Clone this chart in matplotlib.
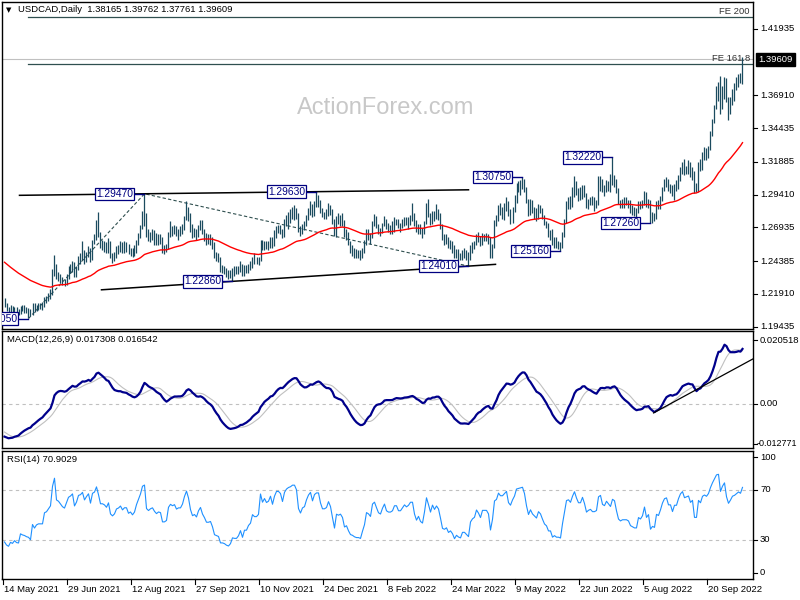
import numpy as np
import matplotlib
matplotlib.use('Agg')
import matplotlib.pyplot as plt
from matplotlib.transforms import blended_transform_factory

plt.rcParams['font.family'] = ['Liberation Sans', 'DejaVu Sans']

# ---------------- DATA (prices in 1/10000) ----------------
date_labels = ["14 May 2021", "29 Jun 2021", "12 Aug 2021", "27 Sep 2021", "10 Nov 2021",
               "24 Dec 2021", "8 Feb 2022", "24 Mar 2022", "9 May 2022", "22 Jun 2022",
               "5 Aug 2022", "20 Sep 2022"]
date_label_bars = [0, 32, 64, 96, 128, 160, 192, 224, 256, 288, 320, 352]

# closes before the visible window (used only to warm up MA / MACD / RSI)
warmup_closes = [
    12740, 12680, 12640, 12670, 12720, 12770, 12710, 12720, 12650, 12730,
    12750, 12720, 12620, 12640, 12730, 12740, 12760, 12840, 12800, 12790,
    12820, 12830, 12800, 12780, 12770, 12720, 12700, 12690, 12700, 12700,
    12670, 12690, 12700, 12640, 12620, 12610, 12620, 12580, 12480, 12730,
    12650, 12630, 12650, 12680, 12630, 12660, 12630, 12620, 12500, 12480,
    12470, 12460, 12380, 12410, 12460, 12560, 12610, 12600, 12600, 12570,
    12620, 12640, 12580, 12570, 12520, 12520, 12580, 12570, 12590, 12540,
    12560, 12530, 12480, 12520, 12520, 12470, 12560, 12480, 12490, 12460,
    12420, 12370, 12330, 12310, 12290, 12280, 12300, 12280, 12250, 12140,
    12140, 12140, 12090, 12150]

closes = [
    12118,
    12075, 12055, 12075, 12062, 12075,
    12053, 12048, 12090, 12080, 12075,
    12065, 12060, 12040, 12105, 12080,
    12095, 12100, 12100, 12100, 12150,
    12155, 12170, 12185, 12340, 12465,
    12330, 12320, 12300, 12280, 12270,
    12320, 12380, 12395, 12420, 12340,
    12380, 12460, 12470, 12500, 12450,
    12490, 12525, 12460, 12590, 12610,
    12700, 12640, 12560, 12560, 12550,
    12530, 12580, 12480, 12460, 12480,
    12530, 12540, 12560, 12530, 12550,
    12550, 12510, 12520, 12500, 12520,
    12580, 12630, 12690, 12800, 12820,
    12640, 12620, 12640, 12650, 12620,
    12600, 12615, 12610, 12530, 12530,
    12540, 12650, 12680, 12670, 12680,
    12650, 12660, 12660, 12690, 12760,
    12820, 12780, 12700, 12650, 12660,
    12640, 12690, 12720, 12670, 12640,
    12600, 12600, 12605, 12560, 12480,
    12470, 12460, 12380, 12380, 12370,
    12350, 12340, 12350, 12375, 12370,
    12370, 12380, 12400, 12350, 12380,
    12380, 12400, 12410, 12450, 12440,
    12440, 12450, 12580, 12540, 12570,
    12550, 12560, 12600, 12560, 12630,
    12680, 12680, 12670, 12630, 12720,
    12760, 12780, 12790, 12810, 12810,
    12790, 12690, 12660, 12700, 12710,
    12770, 12820, 12850, 12800, 12870,
    12890, 12890, 12830, 12790, 12790,
    12800, 12850, 12820, 12740, 12640,
    12760, 12750, 12760, 12730, 12630,
    12640, 12580, 12530, 12520, 12500,
    12490, 12490, 12480, 12520, 12560,
    12650, 12640, 12620, 12730, 12750,
    12710, 12670, 12660, 12710, 12750,
    12700, 12690, 12690, 12700, 12740,
    12740, 12710, 12710, 12730, 12750,
    12740, 12750, 12770, 12770, 12715,
    12680, 12700, 12670, 12660, 12720,
    12830, 12790, 12740, 12800, 12770,
    12800, 12780, 12710, 12610, 12600,
    12610, 12560, 12570, 12540, 12480,
    12500, 12480, 12470, 12500, 12500,
    12480, 12460, 12540, 12560, 12570,
    12620, 12600, 12570, 12620, 12620,
    12620, 12600, 12480, 12550, 12730,
    12750, 12840, 12820, 12820, 12850,
    12880, 12800, 12780, 12840, 12890,
    13000, 13010, 13020, 13030, 12990,
    12900, 12820, 12870, 12830, 12810,
    12790, 12850, 12830, 12780, 12730,
    12710, 12650, 12650, 12570, 12580,
    12560, 12560, 12550, 12640, 12740,
    12870, 12880, 12860, 12940, 13010,
    12960, 12920, 12920, 12990, 12940,
    12860, 12880, 12890, 12870, 12870,
    12880, 13030, 13050, 12980, 12970,
    13020, 13000, 12980, 13060, 13050,
    12970, 12890, 12870, 12880, 12880,
    12880, 12870, 12830, 12820, 12810,
    12810, 12870, 12860, 12880, 12940,
    12870, 12890, 12760, 12780, 12770,
    12870, 12860, 12910, 12980, 13030,
    13040, 12990, 12990, 12940, 13000,
    13000, 13070, 13130, 13160, 13120,
    13130, 13140, 13100, 13120, 12990,
    12990, 13170, 13150, 13240, 13260,
    13250, 13290, 13390, 13490, 13590,
    13720, 13740, 13590, 13720, 13820,
    13660, 13570, 13640, 13730, 13750,
    13790, 13830, 13816, 13961]

highs = [
    12160,
    12125, 12090, 12105, 12100, 12095,
    12090, 12075, 12100, 12110, 12105,
    12090, 12085, 12080, 12120, 12125,
    12110, 12125, 12125, 12130, 12165,
    12175, 12195, 12230, 12380, 12487,
    12420, 12360, 12340, 12320, 12300,
    12340, 12400, 12420, 12440, 12430,
    12400, 12480, 12500, 12590, 12520,
    12510, 12550, 12540, 12600, 12640,
    12750, 12808, 12660, 12600, 12590,
    12580, 12610, 12590, 12500, 12510,
    12550, 12560, 12590, 12580, 12590,
    12580, 12570, 12540, 12540, 12560,
    12600, 12650, 12710, 12820, 12949,
    12800, 12680, 12660, 12680, 12670,
    12650, 12640, 12640, 12620, 12560,
    12570, 12660, 12740, 12700, 12710,
    12700, 12680, 12700, 12720, 12780,
    12896, 12850, 12800, 12720, 12690,
    12680, 12710, 12750, 12750, 12680,
    12650, 12640, 12640, 12620, 12580,
    12510, 12500, 12470, 12410, 12400,
    12390, 12370, 12370, 12390, 12400,
    12400, 12400, 12440, 12420, 12410,
    12410, 12420, 12440, 12470, 12500,
    12470, 12470, 12600, 12600, 12590,
    12590, 12590, 12620, 12620, 12670,
    12700, 12710, 12710, 12680, 12760,
    12790, 12810, 12830, 12850, 12860,
    12840, 12800, 12700, 12720, 12740,
    12790, 12840, 12890, 12870, 12890,
    12964, 12940, 12900, 12840, 12810,
    12830, 12880, 12860, 12830, 12760,
    12780, 12800, 12790, 12800, 12750,
    12680, 12660, 12590, 12560, 12540,
    12530, 12520, 12520, 12540, 12600,
    12680, 12680, 12650, 12740, 12796,
    12780, 12720, 12690, 12730, 12780,
    12760, 12730, 12710, 12740, 12770,
    12760, 12760, 12730, 12760, 12770,
    12770, 12770, 12790, 12880, 12800,
    12750, 12720, 12720, 12690, 12740,
    12880, 12905, 12800, 12820, 12820,
    12870, 12830, 12800, 12720, 12640,
    12640, 12620, 12600, 12590, 12560,
    12530, 12530, 12500, 12520, 12540,
    12520, 12510, 12560, 12580, 12590,
    12640, 12660, 12630, 12650, 12640,
    12650, 12640, 12620, 12570, 12750,
    12790, 12860, 12880, 12850, 12880,
    12920, 12890, 12830, 12850, 12940,
    13030, 13040, 13050, 13076, 13060,
    13000, 12910, 12910, 12900, 12850,
    12840, 12870, 12860, 12840, 12790,
    12740, 12730, 12670, 12680, 12620,
    12620, 12590, 12580, 12660, 12760,
    12890, 12920, 12930, 13000, 13079,
    13040, 12990, 13000, 13010, 13010,
    12950, 12910, 12920, 12930, 12920,
    12900, 13080, 13080, 13060, 13010,
    13050, 13040, 13100, 13224, 13090,
    13060, 12990, 12900, 12910, 12920,
    12920, 12900, 12900, 12860, 12850,
    12840, 12890, 12890, 12900, 12970,
    12960, 12910, 12900, 12810, 12800,
    12890, 12900, 12930, 13000, 13060,
    13070, 13060, 13020, 13010, 13020,
    13050, 13090, 13150, 13190, 13210,
    13160, 13200, 13190, 13150, 13120,
    13030, 13190, 13210, 13260, 13300,
    13290, 13310, 13420, 13510, 13620,
    13760, 13790, 13838, 13760, 13830,
    13820, 13680, 13680, 13740, 13780,
    13830, 13850, 13860, 13976]

lows = [
    12090,
    12060, 12043, 12040, 12045, 12050,
    12040, 12030, 12040, 12060, 12050,
    12050, 12007, 12025, 12035, 12055,
    12065, 12070, 12080, 12070, 12090,
    12120, 12140, 12150, 12180, 12330,
    12300, 12290, 12270, 12260, 12250,
    12260, 12300, 12350, 12360, 12320,
    12320, 12370, 12420, 12450, 12420,
    12430, 12470, 12430, 12450, 12570,
    12600, 12620, 12540, 12520, 12510,
    12500, 12500, 12460, 12425, 12440,
    12460, 12490, 12510, 12500, 12500,
    12510, 12490, 12480, 12470, 12480,
    12500, 12560, 12610, 12680, 12700,
    12620, 12590, 12580, 12600, 12560,
    12560, 12560, 12570, 12500, 12495,
    12510, 12530, 12620, 12630, 12640,
    12630, 12600, 12630, 12640, 12670,
    12750, 12740, 12660, 12610, 12620,
    12600, 12620, 12670, 12640, 12590,
    12560, 12570, 12560, 12530, 12460,
    12440, 12430, 12360, 12350, 12340,
    12320, 12300, 12310, 12288, 12330,
    12340, 12340, 12360, 12330, 12330,
    12350, 12350, 12370, 12390, 12420,
    12420, 12410, 12440, 12520, 12520,
    12530, 12520, 12540, 12540, 12550,
    12610, 12650, 12640, 12610, 12620,
    12700, 12680, 12730, 12760, 12750,
    12760, 12660, 12630, 12640, 12670,
    12700, 12750, 12790, 12770, 12780,
    12850, 12850, 12800, 12770, 12760,
    12760, 12780, 12790, 12720, 12630,
    12620, 12720, 12700, 12700, 12620,
    12600, 12560, 12500, 12480, 12460,
    12460, 12460, 12450, 12460, 12500,
    12560, 12600, 12570, 12610, 12700,
    12690, 12640, 12630, 12650, 12700,
    12680, 12660, 12640, 12640, 12660,
    12710, 12690, 12660, 12690, 12700,
    12710, 12680, 12710, 12740, 12700,
    12660, 12640, 12640, 12610, 12640,
    12720, 12770, 12710, 12720, 12740,
    12760, 12750, 12680, 12600, 12560,
    12570, 12540, 12530, 12500, 12460,
    12460, 12450, 12450, 12450, 12460,
    12450, 12403, 12450, 12500, 12530,
    12560, 12580, 12550, 12560, 12590,
    12590, 12570, 12460, 12460, 12540,
    12700, 12740, 12790, 12760, 12750,
    12820, 12780, 12720, 12730, 12810,
    12880, 12960, 12940, 12980, 12960,
    12880, 12780, 12790, 12800, 12760,
    12740, 12760, 12800, 12760, 12710,
    12690, 12620, 12600, 12560, 12540,
    12540, 12530, 12518, 12540, 12620,
    12730, 12830, 12830, 12850, 12920,
    12940, 12890, 12900, 12910, 12920,
    12840, 12830, 12860, 12860, 12820,
    12840, 12860, 12970, 12960, 12930,
    12960, 12970, 12960, 13010, 13000,
    12950, 12870, 12840, 12840, 12840,
    12860, 12840, 12800, 12790, 12780,
    12770, 12800, 12830, 12840, 12860,
    12850, 12840, 12728, 12730, 12740,
    12760, 12830, 12830, 12890, 12970,
    13000, 12970, 12950, 12930, 12900,
    12970, 12980, 13040, 13100, 13090,
    13100, 13100, 13070, 13050, 12955,
    12960, 12960, 13120, 13130, 13200,
    13200, 13220, 13280, 13380, 13480,
    13590, 13650, 13550, 13590, 13660,
    13640, 13502, 13550, 13620, 13650,
    13730, 13750, 13780, 13776]

# swing labels: (text, bar index, price)
swing_labels = [("1.20050", 12, 1.2005), ("1.29470", 70, 1.2947), ("1.22860", 114, 1.2286),
                ("1.29630", 156, 1.2963), ("1.24010", 232, 1.2401), ("1.30750", 259, 1.3075),
                ("1.25160", 278, 1.2516), ("1.32220", 304, 1.3222), ("1.27260", 323, 1.2726)]

price_ticks = [1.41935, 1.36910, 1.34435, 1.31885, 1.29410, 1.26935, 1.24385, 1.21910, 1.19435]
last_price = 1.39609
fe_levels = [("FE 200", 1.4285), ("FE 161.8", 1.3925)]
fe_points = [(12, 1.2005), (70, 1.2947), (232, 1.2401)]
upper_trend = [(7.5, 1.29354), (232, 1.29771)]
lower_trend = [(48.5, 1.22221), (245.5, 1.24142)]
macd_trend = [(324.5, -0.0029), (374.5, 0.0146)]

# ---------------- indicators ----------------
P = 1e-4
n = min(len(closes), len(highs), len(lows))
c = np.array(closes[:n]) * P
h = np.array(highs[:n]) * P
l = np.array(lows[:n]) * P
allc = np.concatenate([np.array(warmup_closes) * P, c])
w = len(warmup_closes)


def ema(x, period):
    a = 2.0 / (period + 1)
    out = np.empty(len(x))
    out[0] = x[0]
    for i in range(1, len(x)):
        out[i] = a * x[i] + (1 - a) * out[i - 1]
    return out


ma55 = ema(allc, 55)[w:]
macd_all = ema(allc, 12) - ema(allc, 26)
sig_all = np.convolve(macd_all, np.ones(9) / 9, mode='full')[:len(macd_all)]
macd = macd_all[w:]
sig = sig_all[w:]

d = np.diff(allc)
g = np.clip(d, 0, None)
lo = np.clip(-d, 0, None)
rsi_all = np.full(len(allc), 50.0)
ag = g[:14].mean()
al = lo[:14].mean()
for i in range(14, len(d)):
    ag = (ag * 13 + g[i]) / 14
    al = (al * 13 + lo[i]) / 14
    rsi_all[i + 1] = 100 - 100 / (1 + ag / al) if al > 0 else 100
rsi = rsi_all[w:]

x = np.arange(n)

# ---------------- figure ----------------
fig = plt.figure(figsize=(8, 6), dpi=100)
fig.patch.set_facecolor('white')


def rect(left, top, right, bottom):
    return [left / 800, 1 - bottom / 600, (right - left) / 800, (bottom - top) / 600]


ax1 = fig.add_axes(rect(2, 2, 753, 329))
ax2 = fig.add_axes(rect(2, 331, 753, 448))
ax3 = fig.add_axes(rect(2, 451, 753, 579))
XL = (-1.25, 374.25)
for ax in (ax1, ax2, ax3):
    ax.set_xlim(*XL)
    ax.set_xticks([])
    ax.set_yticks([])
    for s in ax.spines.values():
        s.set_color('black')
        s.set_linewidth(1.0)

FS = 6.8
bar_col = '#1b4b5f'
fe_col = '#2f4f4f'
navy = '#000080'

# price panel
ax1.set_ylim(1.19261, 1.43950)
fig.text(386 / 800, 1 - 108 / 600, 'ActionForex.com', fontsize=17, color='#c8c8c8',
         ha='center', va='center', family='Liberation Sans')
ax1.axhline(last_price, color='#c0c0c0', lw=0.8, zorder=1)
ax1.vlines(x, l, h, color=bar_col, lw=0.9, zorder=3)
ax1.plot(x, ma55, color='#ff0000', lw=1.0, zorder=4)

for txt, lev in fe_levels:
    ax1.plot([fe_points[0][0], XL[1]], [lev, lev], color=fe_col, lw=0.9, zorder=2)
ax1.text(1 - 3 / 751, 1.4285 + 0.0042, 'FE 200', transform=blended_transform_factory(ax1.transAxes, ax1.transData),
         ha='right', va='center', fontsize=FS, color='#333333')
ax1.text(1 - 3 / 751, 1.3925 + 0.0046, 'FE 161.8', transform=blended_transform_factory(ax1.transAxes, ax1.transData),
         ha='right', va='center', fontsize=FS, color='#333333', zorder=2)
fx, fy = zip(*fe_points)
ax1.plot(fx, fy, color=fe_col, lw=0.8, ls=(0, (3, 2)), zorder=2)

for seg in (upper_trend, lower_trend):
    sx, sy = zip(*seg)
    ax1.plot(sx, sy, color='black', lw=1.1, zorder=5)

for txt, b, p in swing_labels:
    ax1.plot([b - 5, b], [p, p], color=navy, lw=1.0, zorder=6)
    ax1.text(b - 5.8, p, txt, ha='right', va='center', fontsize=7.4, color=navy, zorder=7,
             bbox=dict(boxstyle='square,pad=0.12', fc='white', ec=navy, lw=0.9), clip_on=True)

tr1 = blended_transform_factory(ax1.transAxes, ax1.transData)
for v in price_ticks:
    ax1.text(1 + 7 / 751, v, f'{v:.5f}', transform=tr1, ha='left', va='center', fontsize=FS, clip_on=False)
    ax1.plot([1, 1 + 4 / 751], [v, v], transform=tr1, color='black', lw=0.8, clip_on=False)
ax1.text(1 + 5 / 751, last_price, f'{last_price:.5f}', transform=tr1, ha='left', va='center', fontsize=FS,
         color='white', clip_on=False, zorder=10,
         bbox=dict(boxstyle='square,pad=0.25', fc='black', ec='black'))

fig.text(6 / 800, 1 - 10 / 600, '\u25bc', fontsize=5, ha='left', va='center', family='DejaVu Sans')
fig.text(18 / 800, 1 - 10 / 600, 'USDCAD,Daily  1.38165 1.39762 1.37761 1.39609', fontsize=FS,
         ha='left', va='center')

# MACD panel
ax2.set_ylim(-0.0142, 0.0235)
ax2.axhline(0, color='#c0c0c0', lw=0.8, ls=(0, (3, 3)))
ax2.plot(x, sig, color='#c0c0c0', lw=0.8)
ax2.plot(x, macd, color='#00008b', lw=1.6)
mx, my = zip(*macd_trend)
ax2.plot(mx, my, color='black', lw=0.9)
ax2.text(5 / 751, 1 - 9 / 117, 'MACD(12,26,9) 0.017308 0.016542', transform=ax2.transAxes,
         fontsize=FS, ha='left', va='center')
tr2 = blended_transform_factory(ax2.transAxes, ax2.transData)
for v, s, off in [(0.020518, '0.020518', 7), (0.0, '0.00', 7), (-0.012771, '-0.012771', 4)]:
    ax2.text(1 + off / 751, v, s, transform=tr2, ha='left', va='center',
             fontsize=FS if off == 7 else 6.5, clip_on=False)
    ax2.plot([1, 1 + 4 / 751], [v, v], transform=tr2, color='black', lw=0.8, clip_on=False)

# RSI panel
ax3.set_ylim(-1.2, 101.2)
for lev in (70, 30):
    ax3.axhline(lev, color='#c0c0c0', lw=0.8, ls=(0, (3, 3)))
ax3.plot(x, rsi, color='#1e90ff', lw=0.8)
ax3.text(5 / 751, 1 - 8 / 128, 'RSI(14) 70.9029', transform=ax3.transAxes, fontsize=FS,
         ha='left', va='center')
tr3 = blended_transform_factory(ax3.transAxes, ax3.transData)
for v, pos in [(100, 96.4), (70, 70), (30, 30), (0, 3.8)]:
    ax3.text(1 + 7 / 751, pos, str(v), transform=tr3, ha='left', va='center', fontsize=FS, clip_on=False)
    ax3.plot([1, 1 + 4 / 751], [pos, pos], transform=tr3, color='black', lw=0.8, clip_on=False)

# date labels
trx = blended_transform_factory(ax3.transData, ax3.transAxes)
for b, s in zip(date_label_bars, date_labels):
    ax3.plot([b - 0.6, b - 0.6], [0, -5 / 128], transform=trx, color='black', lw=0.8, clip_on=False)
    ax3.text(b - 0.3, -10 / 128, s, transform=trx, ha='left', va='center', fontsize=FS, clip_on=False)

fig.savefig('out.png', dpi=100, facecolor='white')
